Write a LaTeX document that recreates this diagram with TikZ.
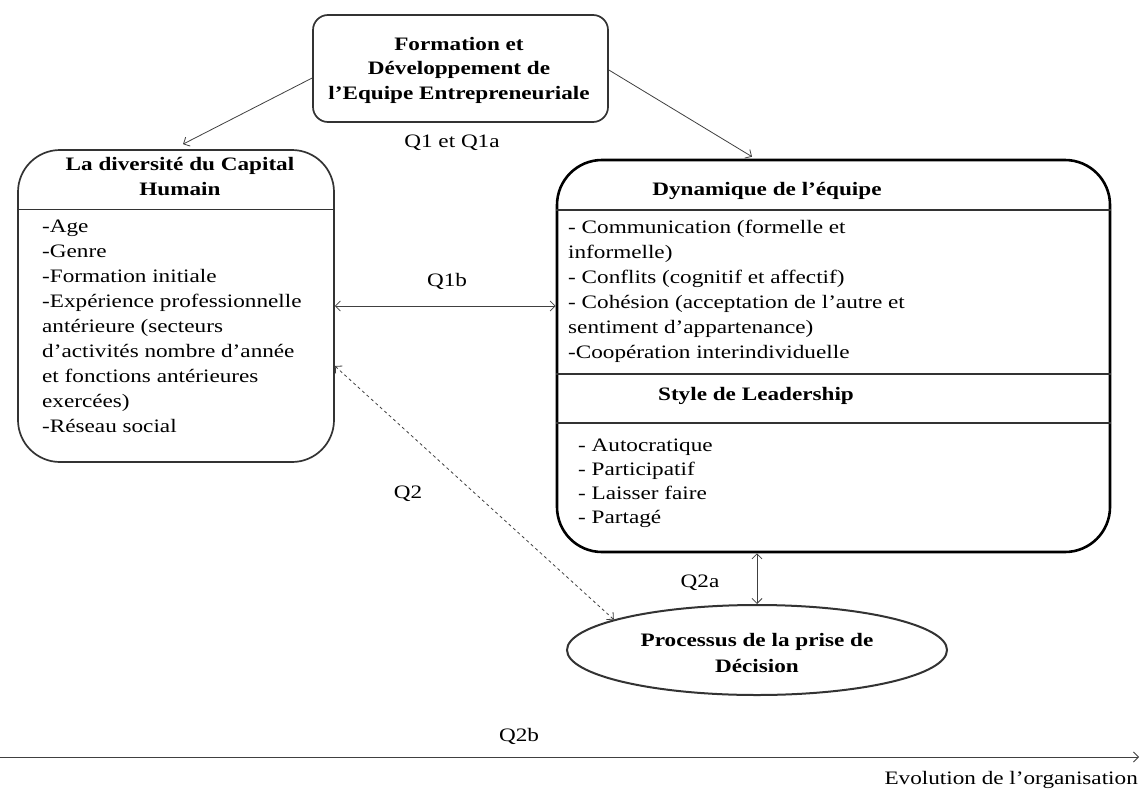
\documentclass[tikz,border=0pt]{standalone}
\usepackage{fontspec}
\setmainfont{Liberation Serif}[FakeStretch=1.22]
\usetikzlibrary{arrows.meta,shapes.geometric}
\begin{document}
\begin{tikzpicture}[x=1pt,y=-1pt,
  box/.style={draw=black!80, line width=1.7pt, rounded corners=#1, inner sep=0pt},
  div/.style={draw=black!80, line width=1.5pt},
  tip/.tip={Straight Barb[length=5pt,width=10pt]},
  conn/.style={draw=black!75, line width=0.8pt, -tip},
  dconn/.style={draw=black!75, line width=0.8pt, tip-tip},
  txt/.style={font=\fontsize{19}{25}\selectfont, inner sep=0pt, anchor=base west},
  ttl/.style={font=\fontsize{19}{25}\selectfont\bfseries, inner sep=0pt, anchor=base},
  lbl/.style={font=\fontsize{19}{25}\selectfont, inner sep=0pt, anchor=base}]
\useasboundingbox (0,0) rectangle (1140,790);
\fill[white] (0,0) rectangle (1140,790);

% boxes
\node[box=15pt, minimum width=295pt, minimum height=107pt] (top) at (460.5,68.5) {};
\node[box=42pt, minimum width=316pt, minimum height=312pt] (hc) at (176,306) {};
\node[box=45pt, draw=black, line width=2.6pt, minimum width=553pt, minimum height=392pt] (dyn) at (833.5,356) {};
\node[ellipse, draw=black!80, line width=2pt, minimum width=380pt, minimum height=90pt, inner sep=0pt] (dec) at (757,650) {};

% dividers
\draw[div] (hc.west |- 0,209.5) -- (hc.east |- 0,209.5);
\draw[div] (dyn.west |- 0,210) -- (dyn.east |- 0,210);
\draw[div] (dyn.west |- 0,374) -- (dyn.east |- 0,374);
\draw[div] (dyn.west |- 0,423) -- (dyn.east |- 0,423);

% titles
\node[ttl] (t1) at (459,50) {Formation et};
\node[ttl] (t2) at (459,74.5) {Développement de};
\node[ttl] (t3) at (459,99) {l’Equipe Entrepreneuriale};
\node[ttl] (h1) at (180,170) {La diversité du Capital};
\node[ttl] (h2) at (180,195) {Humain};
\node[ttl] (d1) at (767,195) {Dynamique de l’équipe};
\node[ttl] (s1) at (756,400) {Style de Leadership};
\node[ttl] (e1) at (757,646) {Processus de la prise de};
\node[ttl] (e2) at (757,672) {Décision};

% left items
\foreach \t [count=\i] in {{-Age},{-Genre},{-Formation initiale},{-Expérience professionnelle},{antérieure (secteurs},{d’activités nombre d’année},{et fonctions antérieures},{exercées)},{-Réseau social}}
  \node[txt] (hcl\i) at (42,{232+(\i-1)*25}) {\t};

% right items
\foreach \t [count=\i] in {{- Communication (formelle et},{informelle)},{- Conflits (cognitif et affectif)},{- Cohésion (acceptation de l’autre et},{sentiment d’appartenance)},{-Coopération interindividuelle}}
  \node[txt] (dyl\i) at (568,{233+(\i-1)*25}) {\t};

\foreach \t [count=\i] in {{- Autocratique},{- Participatif},{- Laisser faire},{- Partagé}}
  \node[txt] (lel\i) at (578,{451+(\i-1)*24}) {\t};

% connectors
\draw[conn] ([yshift=-9.5pt]top.west) -- ([xshift=7pt,yshift=5pt]hc.north);
\draw[conn] ([yshift=-1.5pt]top.east) -- ([xshift=-81.5pt,yshift=2pt]dyn.north);
\draw[dconn] (hc.east) -- (hc.east -| dyn.west);
\draw[dconn, dashed] ([yshift=-60pt]hc.east) -- (dec.168);
\draw[dconn] (dyn.south -| dec.north) -- (dec.north);
\coordinate (a0) at (0,757);
\coordinate (a1) at (1139,757);
\draw[conn] (a0) -- (a1);

% labels
\node[lbl] (q1) at (452,147) {Q1 et Q1a};
\node[lbl] (q1b) at (447,286) {Q1b};
\node[lbl] (q2) at (408,498) {Q2};
\node[lbl] (q2a) at (700,587) {Q2a};
\node[lbl] (q2b) at (519,741) {Q2b};
\node[lbl, anchor=base east] (evo) at (1138,784) {Evolution de l’organisation};
\end{tikzpicture}
\end{document}
